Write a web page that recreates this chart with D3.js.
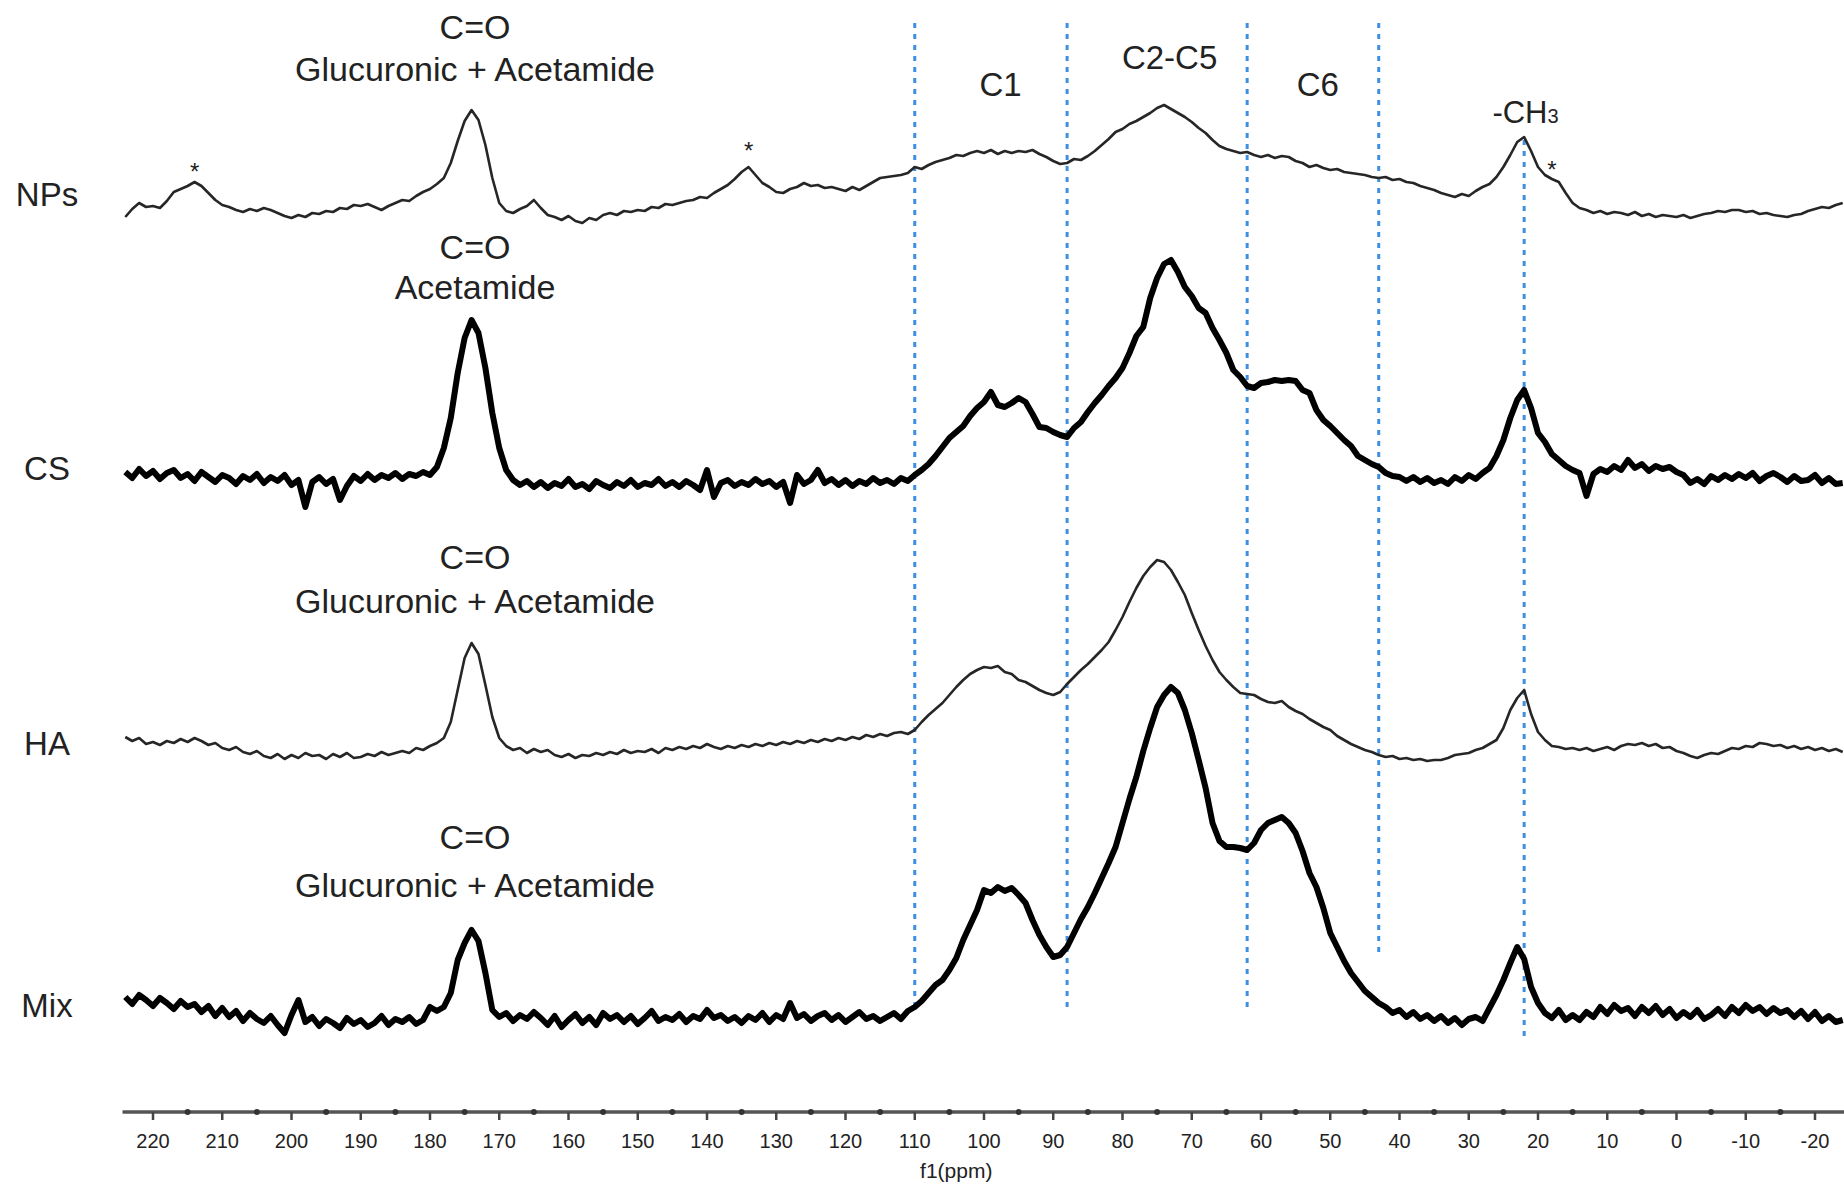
<!DOCTYPE html>
<html>
<head>
<meta charset="utf-8">
<script src="https://cdn.jsdelivr.net/npm/d3@7"></script>
<style>
  body { margin: 0; background: #fff; }
  text { font-family: Arial, "Liberation Sans", sans-serif; fill: #222; }
</style>
</head>
<body>
<div id="chart"></div>
<script>

// chemical shift sample grid (ppm), 224 down to -24
let ppm = d3.range(224, -25, -1);

let samples = ['NPs', 'CS', 'HA', 'Mix'];

// intensity above each baseline, one value per ppm step
let npsValues = [
  -4, 4, 10, 6, 7, 5, 12, 21, 24, 27,          // 224..215
  31, 27, 20, 13, 8, 6, 3, 1, 4, 2,            // 214..205
  5, 3, 0, -3, -5, -2, -4, 0, -1, 2,           // 204..195
  1, 5, 4, 8, 7, 9, 6, 3, 7, 10,               // 194..185
  13, 12, 17, 21, 24, 29, 35, 50, 72, 92,      // 184..175
  103, 93, 68, 35, 10, 2, 0, 4, 7, 13,         // 174..165
  5, -2, -4, -7, -3, -8, -10, -5, -7, -2,      // 164..155
  0, -2, 2, 1, 3, 2, 6, 5, 9, 8,               // 154..145
  10, 12, 13, 16, 15, 20, 24, 28, 34, 41,      // 144..135
  46, 38, 30, 26, 21, 20, 24, 26, 30, 27,      // 134..125
  28, 25, 26, 24, 22, 26, 23, 27, 31, 35,      // 124..115
  36, 37, 38, 40, 46, 44, 48, 51, 53, 55,      // 114..105
  58, 57, 60, 62, 60, 63, 59, 62, 60, 62,      // 104..95
  61, 63, 59, 56, 52, 49, 50, 54, 53, 57,      // 94..85
  62, 68, 74, 81, 84, 89, 92, 96, 100, 105,    // 84..75
  108, 104, 100, 96, 91, 85, 80, 73, 67, 64,   // 74..65
  62, 60, 61, 58, 56, 58, 55, 57, 56, 52,      // 64..55
  50, 46, 48, 45, 43, 44, 41, 40, 39, 38,      // 54..45
  36, 35, 36, 33, 34, 31, 30, 27, 25, 23,      // 44..35
  20, 18, 16, 19, 17, 22, 26, 29, 36, 46,      // 34..25
  58, 71, 76, 62, 46, 38, 34, 31, 20, 10,      // 24..15
  5, 3, 0, 2, -1, 1, 0, -2, 1, -3,             // 14..5
  -1, -4, -2, -3, -4, -2, -5, -3, -1, 0,       // 4..-5
  2, 1, 3, 3, 1, 2, -1, 0, -2, -3,             // -6..-15
  -4, -2, -1, 2, 4, 6, 5, 8, 10                // -16..-24
];

let csValues = [
  6, 0, 9, 2, 7, -1, 5, 8, 0, 4,
  -3, 6, 1, -4, 3, 0, -6, 2, -2, 4,
  -5, 1, -3, 3, -7, -2, -29, -4, 1, -6,
  -1, -22, -8, 2, -3, 4, -2, 3, 0, 5,
  -1, 4, 2, 6, 3, 11, 30, 60, 105, 140,
  158, 145, 110, 65, 30, 8, -2, -7, -3, -9,
  -4, -10, -5, -8, -1, -9, -6, -11, -3, -7,
  -10, -4, -8, -2, -9, -5, -7, -1, -8, -4,
  -9, -3, -7, -12, 8, -19, -5, -2, -8, -4,
  -7, -1, -6, -3, -9, -4, -25, 3, -6, -2,
  8, -5, -1, -7, -2, -8, -3, -6, 0, -5,
  -2, -6, 0, -3, 3, 8, 14, 22, 31, 40,
  46, 52, 62, 70, 76, 86, 73, 71, 75, 80,
  76, 64, 51, 50, 46, 43, 41, 50, 56, 66,
  75, 83, 92, 100, 110, 125, 142, 151, 180, 200,
  214, 218, 206, 191, 182, 170, 165, 150, 138, 125,
  108, 101, 92, 90, 95, 96, 98, 97, 98, 97,
  88, 85, 68, 58, 52, 45, 38, 32, 22, 18,
  14, 11, 5, 2, 1, -3, 1, -4, 0, -5,
  -2, -6, 1, -3, 3, -1, 5, 10, 22, 38,
  60, 78, 88, 70, 45, 36, 24, 18, 12, 8,
  5, -18, 4, 9, 6, 12, 8, 18, 10, 14,
  7, 12, 9, 11, 6, 3, -5, -1, -6, 2,
  -2, 3, -1, 4, 0, 5, -3, 2, 5, 1,
  -4, 2, -3, -2, 3, -5, 0, -6, -5
];

let haValues = [
  13, 9, 12, 6, 8, 5, 9, 7, 11, 8,
  12, 9, 5, 7, 2, 0, 3, -2, -4, -1,
  -6, -8, -4, -9, -5, -8, -3, -6, -5, -9,
  -4, -7, -3, -8, -7, -4, -6, -2, -5, -3,
  -1, -3, 2, 0, 4, 7, 12, 28, 60, 92,
  107, 96, 65, 33, 12, 4, 0, 2, -3, 1,
  -2, 0, -5, -7, -4, -8, -5, -6, -3, -5,
  -2, -4, 0, -3, -1, -2, 1, -3, 2, 0,
  3, 1, 4, 2, 6, 3, 1, 4, 2, 5,
  3, 6, 4, 7, 5, 8, 6, 9, 7, 10,
  8, 11, 9, 12, 10, 13, 11, 15, 13, 16,
  14, 17, 18, 16, 20, 28, 35, 41, 47, 55,
  63, 70, 76, 80, 83, 82, 84, 78, 76, 70,
  68, 64, 60, 57, 55, 58, 66, 73, 80, 86,
  93, 100, 108, 120, 133, 148, 162, 174, 183, 190,
  188, 180, 168, 155, 137, 120, 104, 90, 78, 70,
  63, 57, 56, 55, 51, 48, 47, 49, 43, 39,
  36, 31, 27, 23, 20, 14, 10, 6, 3, 0,
  -2, -5, -7, -6, -9, -8, -10, -9, -11, -10,
  -10, -8, -5, -4, -3, 0, 2, 6, 10, 22,
  40, 52, 60, 36, 18, 10, 4, 3, 1, 2,
  0, 2, -1, 1, 3, 0, 4, 6, 5, 7,
  4, 6, 2, 3, -1, -3, -6, -8, -5, -3,
  -4, -1, 2, 1, 4, 3, 7, 6, 4, 5,
  2, 4, 1, 3, 0, 2, -1, 1, -2
];

let mixValues = [
  16, 9, 18, 13, 7, 15, 10, 4, 12, 6,
  9, 1, 7, -3, 5, -4, 2, -8, 0, -6,
  -10, -3, -12, -20, -2, 13, -9, -4, -13, -6,
  -10, -15, -5, -11, -7, -14, -10, -3, -12, -6,
  -9, -4, -11, -7, 6, 2, 6, 20, 53, 70,
  83, 72, 40, 3, -4, 0, -8, -2, -6, 1,
  -5, -12, -3, -14, -7, -1, -10, -4, -12, 0,
  -6, -2, -9, -3, -11, -5, 2, -8, -4, -7,
  -1, -9, -3, -6, 3, -5, -2, -8, -4, -10,
  -3, -7, 0, -9, -2, -6, 10, -5, -1, -8,
  -3, 0, -7, -2, -9, -4, 1, -6, -3, -8,
  -4, 0, -6, 2, 6, 12, 20, 28, 33, 43,
  55, 73, 88, 103, 123, 120, 126, 122, 125, 118,
  110, 93, 78, 66, 56, 58, 66, 80, 94, 106,
  120, 135, 150, 166, 190, 214, 236, 262, 285, 306,
  318, 326, 320, 303, 280, 253, 225, 190, 172, 166,
  166, 165, 163, 170, 183, 190, 193, 196, 190, 180,
  162, 140, 126, 105, 80, 66, 52, 40, 31, 22,
  16, 10, 6, 0, 3, -4, 1, -6, -2, -8,
  -3, -10, -5, -12, -6, -4, -8, 5, 18, 33,
  50, 66, 54, 26, 10, 0, -5, 3, -7, -2,
  -7, 1, -4, 6, -1, 8, 2, 5, -3, 6,
  0, 7, -2, 4, -5, 1, -4, 3, -6, -2,
  4, -3, 6, 0, 8, 2, 6, -1, 5, 0,
  3, -4, 2, -6, 1, -8, -3, -9, -7
];

let seriesValues = [npsValues, csValues, haValues, mixValues];

// region boundaries (ppm) drawn as dotted lines
let regionLines = [110, 88, 62, 43, 22];
let regionLabels = ['C1', 'C2-C5', 'C6'];
let regionLabelPpm = [97.6, 73.2, 51.8];

let majorTicks = d3.range(220, -21, -10);
let minorTicks = d3.range(215, -16, -10);

// carbonyl annotations per spectrum
let carbonylLines = [
  ['C=O', 'Glucuronic + Acetamide'],
  ['C=O', 'Acetamide'],
  ['C=O', 'Glucuronic + Acetamide'],
  ['C=O', 'Glucuronic + Acetamide']
];

// spinning sidebands marked with *, ppm and height on NPs
let sidebandPpm = [214, 134, 18];
let sidebandHeight = [31, 52, 33];


let width = 1844, height = 1185;

let svg = d3.select('#chart')
  .append('svg')
    .attr('width', width)
    .attr('height', height)
;

let x = d3.scaleLinear()
  .domain([220, -20])
  .range([153, 1815])
;

let y = d3.scaleLinear()
  .domain([0, 330])
  .range([0, -330])
;

// pixel row of each spectrum baseline
let baselines = [213, 478, 750, 1013];
let labelY = [206, 480, 755, 1017];
let strokeW = [2.6, 6, 2.6, 6];
let strokeC = ['#262626', '#000', '#262626', '#000'];

// carbonyl label baselines (two lines each)
let coLabelY = [[39, 81], [259, 299], [569, 613], [849, 897]];


// dotted region lines first so the traces sit on top
let lineTop = [23, 23, 23, 23, 140];
let lineBottom = [1013, 1011, 1011, 952, 1041];

svg.selectAll('.region').data(regionLines)
  .enter()
    .append('line')
      .attr('class', 'region')
      .attr('x1', function(d){ return x(d); })
      .attr('x2', function(d){ return x(d); })
      .attr('y1', function(d, i){ return lineTop[i]; })
      .attr('y2', function(d, i){ return lineBottom[i]; })
      .attr('stroke', '#3f8fe0')
      .attr('stroke-width', 3)
      .attr('stroke-dasharray', '5,6')
;

let line = d3.line()
  .x(function(d, i){ return x(ppm[i]); })
  .y(function(d){ return y(d); })
;

let traces = svg.selectAll('.trace').data(seriesValues)
  .enter()
    .append('g')
    .attr('class', 'trace')
    .attr('transform', function(d, i){
      return 'translate(0,' + baselines[i] + ')';
    })
;

traces.append('path')
    .attr('d', line)
    .attr('fill', 'none')
    .attr('stroke', function(d, i){ return strokeC[i]; })
    .attr('stroke-width', function(d, i){ return strokeW[i]; })
    .attr('stroke-linejoin', 'round')
;

// sample names on the left
svg.selectAll('.sample').data(samples)
  .enter()
    .append('text')
      .attr('class', 'sample')
      .attr('x', 47)
      .attr('y', function(d, i){ return labelY[i]; })
      .attr('text-anchor', 'middle')
      .attr('font-size', 33)
      .text(function(d){ return d; })
;

// carbonyl labels above the ~174 ppm peaks
carbonylLines.forEach(function(lines, i){
  lines.forEach(function(t, j){
    svg.append('text')
        .attr('x', x(173.5))
        .attr('y', coLabelY[i][j])
        .attr('text-anchor', 'middle')
        .attr('font-size', 34)
        .text(t)
    ;
  });
});

// region names
let regionLabelY = [96, 69, 96];
svg.selectAll('.rlabel').data(regionLabels)
  .enter()
    .append('text')
      .attr('class', 'rlabel')
      .attr('x', function(d, i){ return x(regionLabelPpm[i]); })
      .attr('y', function(d, i){ return regionLabelY[i]; })
      .attr('text-anchor', 'middle')
      .attr('font-size', 33)
      .text(function(d){ return d; })
;

let ch3 = svg.append('text')
    .attr('x', x(21.8))
    .attr('y', 123)
    .attr('text-anchor', 'middle')
    .attr('font-size', 31)
;
ch3.append('tspan').text('-CH');
ch3.append('tspan').attr('font-size', 20).text('3');

// sideband asterisks on the NPs trace
svg.selectAll('.star').data(sidebandPpm)
  .enter()
    .append('text')
      .attr('class', 'star')
      .attr('x', function(d){ return x(d); })
      .attr('y', function(d, i){ return baselines[0] + y(sidebandHeight[i]) - 2; })
      .attr('text-anchor', 'middle')
      .attr('font-size', 24)
      .text('*')
;


// ppm axis
let axisY = 1112;

svg.append('line')
    .attr('x1', x(224.4))
    .attr('x2', width)
    .attr('y1', axisY)
    .attr('y2', axisY)
    .attr('stroke', '#555')
    .attr('stroke-width', 3.5)
;

svg.selectAll('.major').data(majorTicks)
  .enter()
    .append('line')
      .attr('class', 'major')
      .attr('x1', function(d){ return x(d); })
      .attr('x2', function(d){ return x(d); })
      .attr('y1', axisY)
      .attr('y2', axisY + 8)
      .attr('stroke', '#444')
      .attr('stroke-width', 2.5)
;

svg.selectAll('.minor').data(minorTicks)
  .enter()
    .append('circle')
      .attr('class', 'minor')
      .attr('cx', function(d){ return x(d); })
      .attr('cy', axisY)
      .attr('r', 3)
      .attr('fill', '#333')
;

svg.selectAll('.ticklabel').data(majorTicks)
  .enter()
    .append('text')
      .attr('class', 'ticklabel')
      .attr('x', function(d){ return x(d); })
      .attr('y', axisY + 36)
      .attr('text-anchor', 'middle')
      .attr('font-size', 20)
      .attr('fill', '#333')
      .text(function(d){ return d; })
;

svg.append('text')
    .attr('x', x(104))
    .attr('y', 1178)
    .attr('text-anchor', 'middle')
    .attr('font-size', 21)
    .text('f1(ppm)')
;

</script>
</body>
</html>
